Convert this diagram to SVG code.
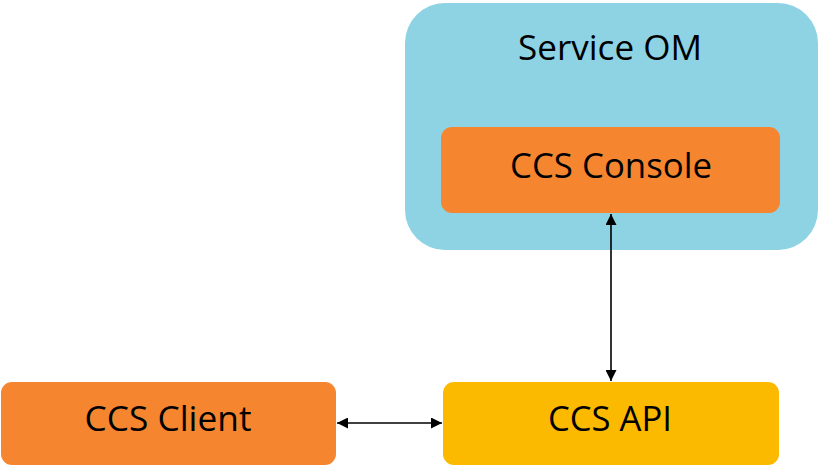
<svg xmlns="http://www.w3.org/2000/svg" width="820" height="467" viewBox="0 0 820 467">
<style>
.t{font-family:"Open Sans","Liberation Sans",sans-serif;font-size:35px;fill:#000;text-anchor:middle}
.c{stroke:#000;stroke-width:1.6;fill:none}
</style>
<defs>
<marker id="a" viewBox="0 0 10 10" refX="10" refY="5" markerWidth="12" markerHeight="11" markerUnits="userSpaceOnUse" orient="auto-start-reverse">
<path d="M0,0 L10,5 L0,10 z" fill="#000"/>
</marker>
</defs>
<rect width="820" height="467" fill="#fff"/>
<g id="service-om">
<rect x="405" y="3" width="413" height="247" rx="40" fill="#8dd3e3"/>
<text class="t" x="610" y="60" textLength="184" lengthAdjust="spacingAndGlyphs">Service OM</text>
</g>
<g id="ccs-console">
<rect x="441" y="127" width="339" height="86" rx="11" fill="#f5862f"/>
<text class="t" x="611" y="178" textLength="202" lengthAdjust="spacingAndGlyphs">CCS Console</text>
</g>
<g id="ccs-client">
<rect x="1" y="382" width="335" height="83" rx="11" fill="#f5862f"/>
<text class="t" x="168" y="431" textLength="167" lengthAdjust="spacingAndGlyphs">CCS Client</text>
</g>
<g id="ccs-api">
<rect x="443" y="382" width="336" height="83" rx="11" fill="#fbb900"/>
<text class="t" x="610" y="431" textLength="124" lengthAdjust="spacingAndGlyphs">CCS API</text>
</g>
<g id="connectors">
<line class="c" x1="611" y1="214" x2="611" y2="381" marker-start="url(#a)" marker-end="url(#a)"/>
<line class="c" x1="337" y1="423" x2="442" y2="423" marker-start="url(#a)" marker-end="url(#a)"/>
</g>
</svg>
